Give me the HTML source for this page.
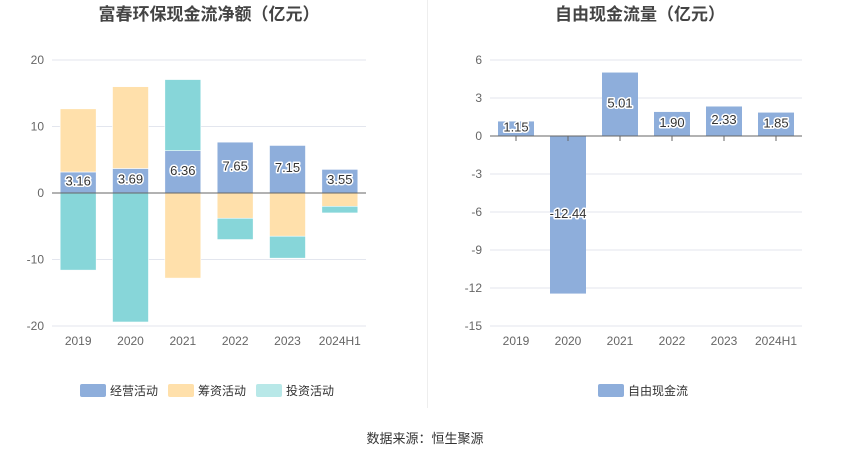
<!DOCTYPE html>
<html><head><meta charset="utf-8">
<style>
body{margin:0;background:#fff;font-family:"Liberation Sans","Noto Sans CJK SC",sans-serif;}
svg text{font-family:"Liberation Sans","Noto Sans CJK SC",sans-serif;}
</style></head>
<body>
<svg id="c" width="850" height="459" xmlns="http://www.w3.org/2000/svg">
<rect width="850" height="459" fill="#fff"/>
<text x="209" y="20" text-anchor="middle" font-size="17" font-weight="bold" fill="#444">富春环保现金流净额（亿元）</text>
<text x="640" y="20" text-anchor="middle" font-size="17" font-weight="bold" fill="#444">自由现金流量（亿元）</text>
<line x1="427.5" y1="0" x2="427.5" y2="408" stroke="#eee"/>
<g id="L"></g><g id="R"></g>
<g>
<rect x="80" y="384" width="26" height="13" rx="2" fill="#8eaedb"/>
<text x="110" y="395" font-size="12" fill="#333">经营活动</text>
<rect x="168" y="384" width="26" height="13" rx="2" fill="#ffe0ab"/>
<text x="198" y="395" font-size="12" fill="#333">筹资活动</text>
<rect x="256" y="384" width="26" height="13" rx="2" fill="#b8e8e8"/>
<text x="286" y="395" font-size="12" fill="#333">投资活动</text>
</g>
<g>
<rect x="598" y="384" width="26" height="13" rx="2" fill="#8eaedb"/>
<text x="628" y="395" font-size="12" fill="#333">自由现金流</text>
</g>
<text x="425" y="443" text-anchor="middle" font-size="13" fill="#333">数据来源：恒生聚源</text>
</svg>
<script>
const cats=["2019","2020","2021","2022","2023","2024H1"];
const operating=[3.16,3.69,6.36,7.65,7.15,3.55];
const financing=[9.5,12.3,-12.8,-3.8,-6.5,-2.0];
const investing=[-11.6,-19.4,10.7,-3.2,-3.3,-1.0];
const leftTicks=[20,10,0,-10,-20];
const fcf=[1.15,-12.44,5.01,1.90,2.33,1.85];
const rightTicks=[6,3,0,-3,-6,-9,-12,-15];
const NS="http://www.w3.org/2000/svg";
function mk(p,t,a){const e=document.createElementNS(NS,t);for(const k in a)e.setAttribute(k,a[k]);p.appendChild(e);return e;}
function lbl(g,x,y,v){
  const t=mk(g,'text',{x:x,y:y+3,'text-anchor':'middle','font-size':13,fill:'#333',stroke:'#fff','stroke-width':3,'paint-order':'stroke','stroke-linejoin':'round'});
  t.textContent=v.toFixed(2);
  
  
}
// left
(function(){
 const g=document.getElementById('L');
 const x0=52,x1=366,yT=60,yB=326,vT=20,vB=-20;
 const y=v=>yT+(vT-v)/(vT-vB)*(yB-yT);
 const band=(x1-x0)/cats.length,bw=36;
 leftTicks.forEach(v=>{
  const l=mk(g,'line',{x1:x0,x2:x1,y1:y(v),y2:y(v),stroke:'#e3e6ee'});
  
  
  const t=mk(g,'text',{x:x0-8,y:y(v)+4,'text-anchor':'end','font-size':12,fill:'#666'});t.textContent=v;
  
  
 });
 const series=[[operating,'#8eaedb'],[financing,'#ffe0ab'],[investing,'#87d6d9']];
 cats.forEach((c,i)=>{
  const cx=x0+band*(i+0.5);let pos=0,neg=0;
  series.forEach(([arr,col])=>{
   const v=arr[i];let a,b;
   if(v>=0){a=pos;b=pos+v;pos=b;}else{a=neg;b=neg+v;neg=b;}
   const r=mk(g,'rect',{x:cx-bw/2,y:Math.min(y(a),y(b)),width:bw,height:Math.abs(y(a)-y(b)),fill:col,stroke:'#fff','stroke-width':0.6});
   
   
  });
  const t=mk(g,'text',{x:cx,y:yB+19,'text-anchor':'middle','font-size':12,fill:'#666'});t.textContent=c;
  
  
 });
 const ax=mk(g,'line',{x1:x0,x2:x1,y1:y(0),y2:y(0),stroke:'#666'});
 
 
 cats.forEach((c,i)=>{const cx=x0+band*(i+0.5);lbl(g,cx,y(operating[i]/2),operating[i]);});
})();
// right
(function(){
 const g=document.getElementById('R');
 const x0=490,x1=802,yT=60,yB=326,vT=6,vB=-15;
 const y=v=>yT+(vT-v)/(vT-vB)*(yB-yT);
 const band=(x1-x0)/cats.length,bw=36;
 rightTicks.forEach(v=>{
  const l=mk(g,'line',{x1:x0,x2:x1,y1:y(v),y2:y(v),stroke:'#e3e6ee'});
  
  
  const t=mk(g,'text',{x:x0-8,y:y(v)+4,'text-anchor':'end','font-size':12,fill:'#666'});t.textContent=v;
  
  
 });
 cats.forEach((c,i)=>{
  const cx=x0+band*(i+0.5),v=fcf[i];
  const r=mk(g,'rect',{x:cx-bw/2,y:Math.min(y(0),y(v)),width:bw,height:Math.abs(y(v)-y(0)),fill:'#8eaedb'});
  
  
  const t=mk(g,'text',{x:cx,y:yB+19,'text-anchor':'middle','font-size':12,fill:'#666'});t.textContent=c;
  
  
  const tk=mk(g,'line',{x1:cx,x2:cx,y1:y(0),y2:y(0)+5,stroke:'#666'});
  
  
 });
 const ax=mk(g,'line',{x1:x0,x2:x1,y1:y(0),y2:y(0),stroke:'#666'});
 
 
 cats.forEach((c,i)=>{const cx=x0+band*(i+0.5);lbl(g,cx,y(fcf[i]/2),fcf[i]);});
})();
</script>
</body></html>
